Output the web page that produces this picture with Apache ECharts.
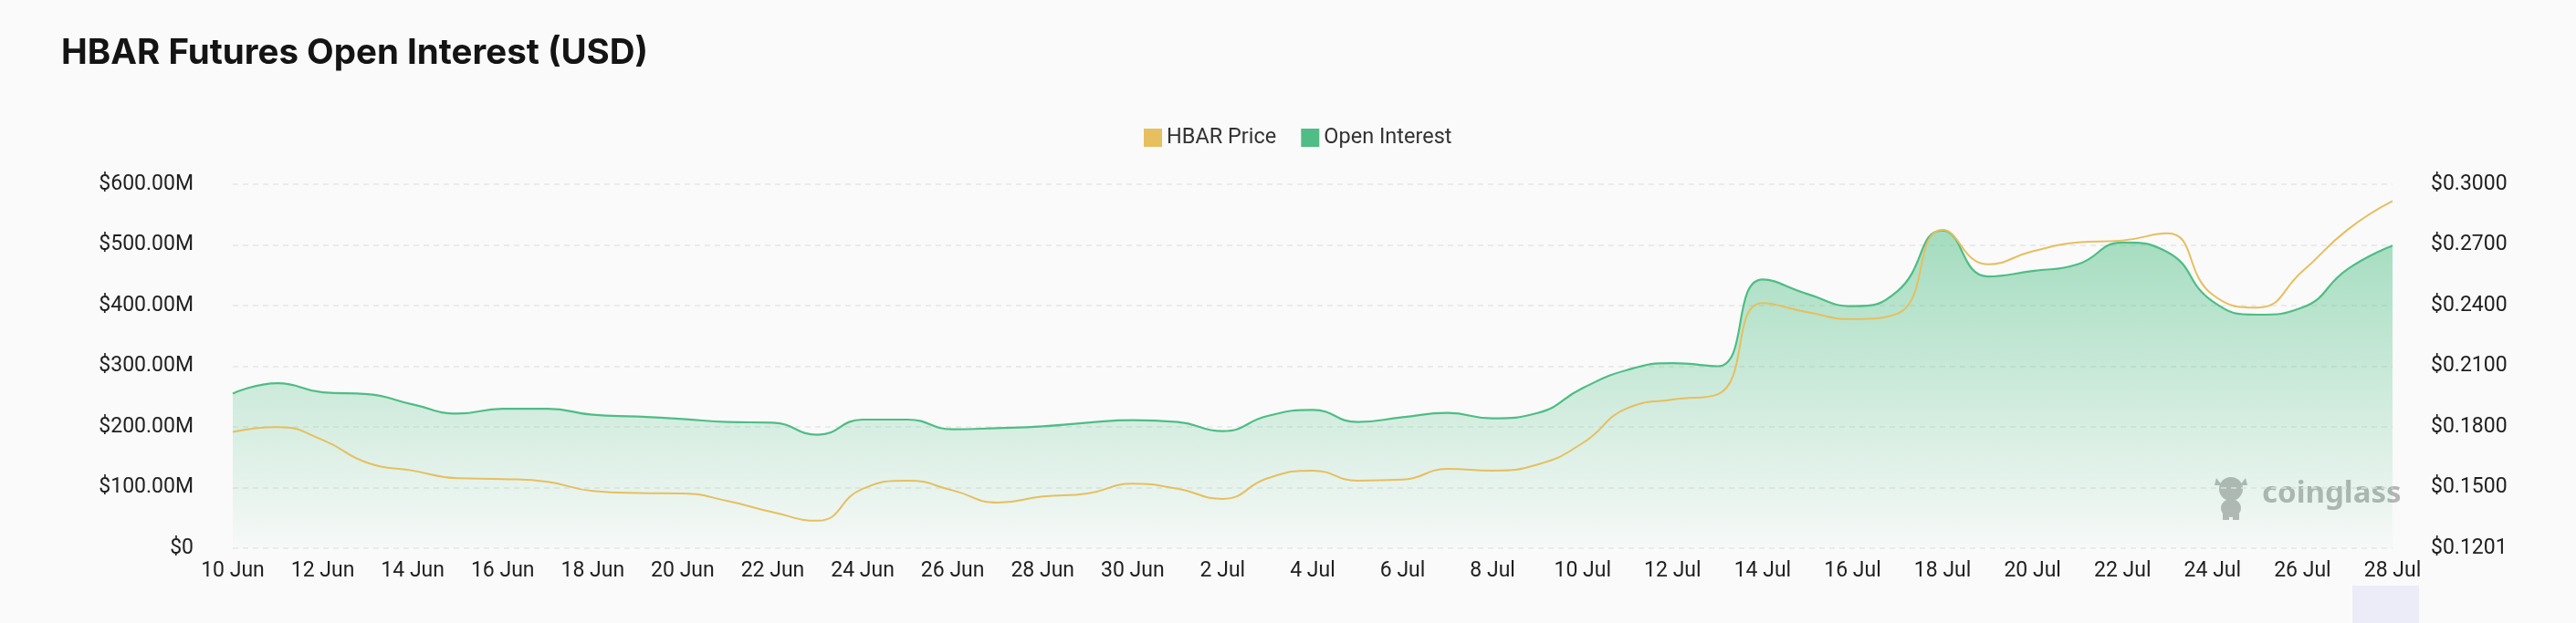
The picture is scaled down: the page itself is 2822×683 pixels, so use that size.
<!DOCTYPE html>
<html>
<head>
<meta charset="utf-8">
<title>HBAR Futures Open Interest (USD)</title>
<script src="https://cdn.jsdelivr.net/npm/echarts@6/dist/echarts.min.js"></script>
<style>
  html, body { margin: 0; padding: 0; background: #fafafa; }
  #chart { width: 2822px; height: 683px; }
</style>
</head>
<body>
<div id="chart"></div>
<script>
// daily points, 10 Jun -> 28 Jul
const dates = [
  '10 Jun', '11 Jun', '12 Jun', '13 Jun', '14 Jun', '15 Jun', '16 Jun', '17 Jun', '18 Jun', '19 Jun',
  '20 Jun', '21 Jun', '22 Jun', '23 Jun', '24 Jun', '25 Jun', '26 Jun', '27 Jun', '28 Jun', '29 Jun',
  '30 Jun', '1 Jul', '2 Jul', '3 Jul', '4 Jul', '5 Jul', '6 Jul', '7 Jul', '8 Jul', '9 Jul',
  '10 Jul', '11 Jul', '12 Jul', '13 Jul', '14 Jul', '15 Jul', '16 Jul', '17 Jul', '18 Jul', '19 Jul',
  '20 Jul', '21 Jul', '22 Jul', '23 Jul', '24 Jul', '25 Jul', '26 Jul', '27 Jul', '28 Jul'
];

// open interest, millions of USD
const openInterest = [
  255, 272, 257, 254, 237, 222, 230, 230, 220, 217,
  213, 208, 207, 187, 212, 212, 196, 198, 201, 207,
  211, 208, 193, 218, 228, 208, 216, 223, 214, 223,
  264, 294, 305, 300, 443, 419, 399, 424, 524, 448,
  457, 468, 504, 488, 407, 385, 397, 460, 499
];

// HBAR price, USD
const hbarPrice = [
  0.1775, 0.1799, 0.1735, 0.1622, 0.1584, 0.1546, 0.1542, 0.1528, 0.1483, 0.1473,
  0.1471, 0.1433, 0.1378, 0.1336, 0.1494, 0.1534, 0.1486, 0.1426, 0.1456, 0.1471,
  0.1519, 0.1494, 0.1444, 0.1546, 0.1584, 0.1534, 0.1539, 0.1592, 0.1584, 0.1614,
  0.1720, 0.1893, 0.1935, 0.1961, 0.2412, 0.2367, 0.2333, 0.2360, 0.2774, 0.2604,
  0.2668, 0.2712, 0.2722, 0.2757, 0.2454, 0.2390, 0.2570, 0.2775, 0.2917
];

const priceTickLabels = ['$0.1201', '$0.1500', '$0.1800', '$0.2100', '$0.2400', '$0.2700', '$0.3000'];

const green = '#4fbd85';
const yellow = '#e6bf5f';
const labelColor = '#1f1f1f';
const font = 'Roboto';

const myChart = echarts.init(document.getElementById('chart'));

const option = {
  backgroundColor: '#fafafa',
  animation: false,
  title: {
    text: 'HBAR Futures Open Interest (USD)',
    left: 62,
    top: 34,
    textStyle: {
      fontFamily: 'Inter',
      fontWeight: 'bold',
      fontSize: 38.5,
      color: '#141414'
    }
  },
  legend: {
    left: 1248,
    top: 134,
    itemWidth: 20,
    itemHeight: 20,
    itemGap: 27,
    icon: 'rect',
    textStyle: { fontFamily: font, fontSize: 23.5, color: '#333' },
    data: ['HBAR Price', 'Open Interest']
  },
  grid: {
    left: 255,
    right: 201,
    top: 202,
    bottom: 82
  },
  xAxis: {
    type: 'category',
    boundaryGap: false,
    data: dates,
    axisLine: { show: false },
    axisTick: { show: false },
    axisLabel: {
      interval: 1,
      margin: 14,
      fontFamily: font,
      fontSize: 23,
      color: labelColor
    }
  },
  yAxis: [
    {
      type: 'value',
      min: 0,
      max: 600,
      interval: 100,
      axisLine: { show: false },
      axisTick: { show: false },
      splitLine: { lineStyle: { color: '#e6e6e6', type: [6, 5], width: 1.5 } },
      axisLabel: {
        margin: 43,
        fontFamily: font,
        fontSize: 23,
        color: labelColor,
        formatter: v => (v === 0 ? '$0' : '$' + v.toFixed(2) + 'M')
      }
    },
    {
      type: 'value',
      min: 0.12,
      max: 0.30,
      interval: 0.03,
      axisLine: { show: false },
      axisTick: { show: false },
      splitLine: { show: false },
      axisLabel: {
        margin: 42,
        fontFamily: font,
        fontSize: 23,
        color: labelColor,
        formatter: (v, i) => priceTickLabels[i]
      }
    }
  ],
  graphic: [
    // coinglass watermark
    {
      type: 'group',
      left: 2426,
      top: 523,
      z: 100,
      children: [
        { type: 'circle', shape: { cx: 22, cy: 16, r: 13 }, style: { fill: '#b8b8b8' } },
        { type: 'polygon', shape: { points: [[6, 4], [12, 12], [4, 12]] }, style: { fill: '#b8b8b8' } },
        { type: 'polygon', shape: { points: [[38, 4], [40, 12], [32, 12]] }, style: { fill: '#b8b8b8' } },
        { type: 'ellipse', shape: { cx: 22, cy: 37, rx: 11, ry: 10 }, style: { fill: '#b8b8b8' } },
        { type: 'rect', shape: { x: 13, y: 42, width: 7, height: 8 }, style: { fill: '#b8b8b8' } },
        { type: 'rect', shape: { x: 24, y: 42, width: 7, height: 8 }, style: { fill: '#b8b8b8' } },
        {
          type: 'text',
          x: 56,
          y: 5,
          style: {
            text: 'coinglass',
            fontFamily: 'Noto Sans',
            fontWeight: 'bold',
            fontSize: 33,
            fill: '#b5b5b5'
          }
        }
      ]
    },
    // bottom slider window (cut off)
    {
      type: 'rect',
      left: 2577,
      top: 642,
      shape: { width: 73, height: 41 },
      style: { fill: '#ebecf8' }
    }
  ],
  series: [
    {
      name: 'Open Interest',
      type: 'line',
      yAxisIndex: 0,
      data: openInterest,
      smooth: 0.5,
      showSymbol: false,
      lineStyle: { color: green, width: 2.2 },
      itemStyle: { color: green },
      areaStyle: {
        color: new echarts.graphic.LinearGradient(0, 0, 0, 1, [
          { offset: 0, color: 'rgba(79,191,133,0.72)' },
          { offset: 1, color: 'rgba(79,191,133,0.03)' }
        ])
      },
      z: 2
    },
    {
      name: 'HBAR Price',
      type: 'line',
      yAxisIndex: 1,
      data: hbarPrice,
      smooth: 0.5,
      showSymbol: false,
      lineStyle: { color: yellow, width: 2 },
      itemStyle: { color: yellow },
      z: 3
    }
  ]
};

myChart.setOption(option);
window.addEventListener('resize', () => myChart.resize());
</script>
</body>
</html>
